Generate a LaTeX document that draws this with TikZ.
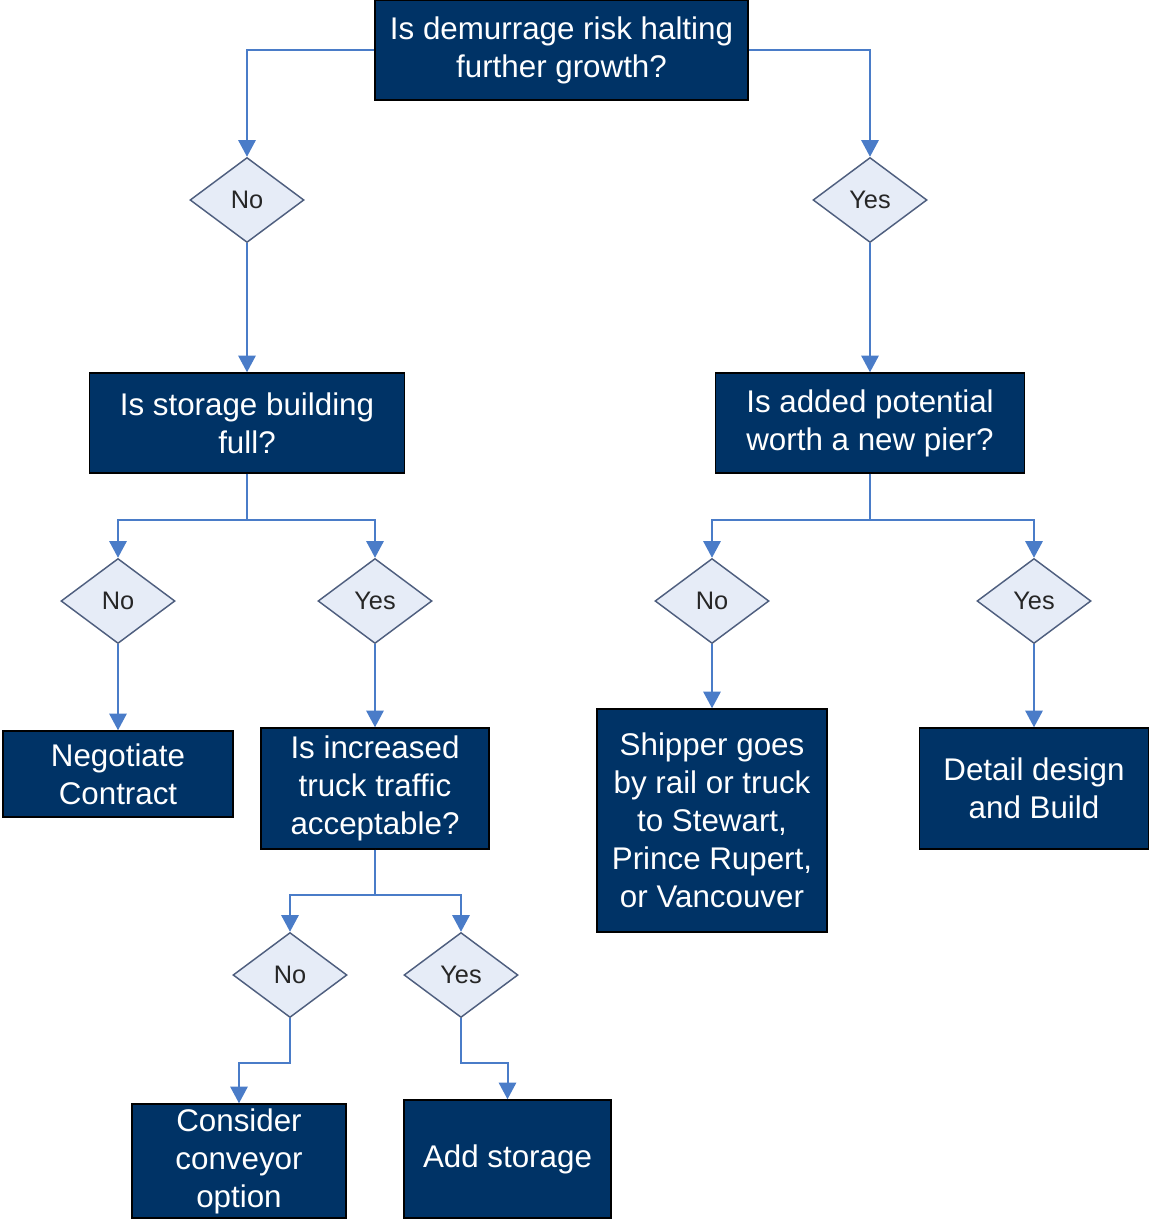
\documentclass[tikz,border=0pt]{standalone}
\usepackage{fontspec}
\setmainfont{Liberation Sans}
\usetikzlibrary{shapes,arrows.meta}
\definecolor{boxblue}{HTML}{003366}
\definecolor{diafill}{HTML}{E6ECF7}
\definecolor{diadraw}{HTML}{4F5F7F}
\definecolor{linkblue}{HTML}{4A7CC8}
\tikzstyle{block} = [draw=black, fill=boxblue, rectangle, text=white,
align=center, inner sep=0pt, line width=1.1pt,
font=\fontsize{23.5}{28.5}\selectfont]
\tikzstyle{choice} = [draw=diadraw, fill=diafill, diamond, inner sep=0pt,
minimum width=85.5pt, minimum height=63.75pt, line width=1.1pt,
text=black!85, font=\fontsize{19}{22}\selectfont]
\tikzstyle{link} = [draw=linkblue, line width=1.5pt, ->]
\begin{document}
\begin{tikzpicture}[x=0.75pt, y=-0.75pt, >={Triangle[length=12.5pt,width=13pt]}]
		\useasboundingbox (0,0) rectangle (1149,1220);
		\node(growth)[block, minimum width=279.75pt, minimum height=75pt] at (561.5,50) {Is demurrage risk halting\\further growth?};
		\node(nogrowth)[choice] at (247,200) {No};
		\node(yesgrowth)[choice] at (870,200) {Yes};
		
		\draw[link] (growth.west) -| (nogrowth.north);
		\draw[link] (growth.east) -| (yesgrowth.north);
		
		\node(storage)[block, minimum width=236.25pt, minimum height=75pt] at (247,423) {Is storage building\\full?};
		\node(pier)[block, minimum width=231.75pt, minimum height=75pt] at (870,423) {Is added potential\\worth a new pier?};
		
		\draw[link] (nogrowth) -- (storage);
		\draw[link] (yesgrowth) -- (pier);
		
		\coordinate(storagesplit) at (247,520);
		\coordinate(piersplit) at (870,520);
		\node(nostorage)[choice] at (118,601) {No};
		\node(yesstorage)[choice] at (375,601) {Yes};
		\node(nopier)[choice] at (712,601) {No};
		\node(yespier)[choice] at (1034,601) {Yes};
		
		\draw[link] (storage.south) -- (storagesplit) -| (nostorage.north);
		\draw[link] (storagesplit) -| (yesstorage.north);
		\draw[link] (pier.south) -- (piersplit) -| (nopier.north);
		\draw[link] (piersplit) -| (yespier.north);
		
		\node(contract)[block, minimum width=172.5pt, minimum height=64.5pt] at (118,774) {Negotiate\\Contract};
		\node(truck)[block, minimum width=171pt, minimum height=90.75pt] at (375,788.5) {Is increased\\truck traffic\\acceptable?};
		\node(shipper)[block, minimum width=172.5pt, minimum height=167.25pt] at (712,820.5) {Shipper goes\\by rail or truck\\to Stewart,\\Prince Rupert,\\or Vancouver};
		\node(build)[block, minimum width=171.75pt, minimum height=90.75pt] at (1034,788.5) {Detail design\\and Build};
		
		\draw[link] (nostorage) -- (contract);
		\draw[link] (yesstorage) -- (truck);
		\draw[link] (nopier) -- (shipper);
		\draw[link] (yespier) -- (build);
		
		\coordinate(trucksplit) at (375,895);
		\node(notruck)[choice] at (290,975) {No};
		\node(yestruck)[choice] at (461,975) {Yes};
		
		\draw[link] (truck.south) -- (trucksplit) -| (notruck.north);
		\draw[link] (trucksplit) -| (yestruck.north);
		
		\node(conveyor)[block, minimum width=160.5pt, minimum height=85.5pt] at (239,1161) {Consider\\conveyor\\option};
		\node(addstorage)[block, minimum width=155.25pt, minimum height=88.5pt] at (507.5,1159) {Add storage};
		\coordinate(noturn) at (290,1063);
		\coordinate(yesturn) at (461,1063);
		
		\draw[link] (notruck.south) -- (noturn) -| (conveyor.north);
		\draw[link] (yestruck.south) -- (yesturn) -| (addstorage.north);
\end{tikzpicture}
\end{document}
